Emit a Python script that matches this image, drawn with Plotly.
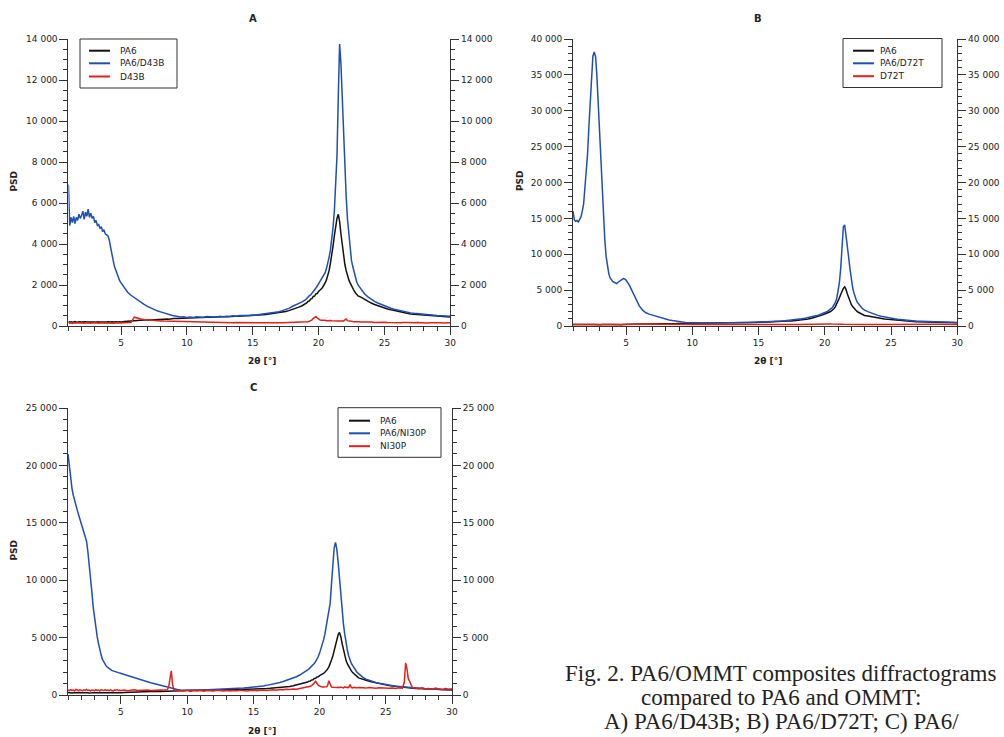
import plotly.graph_objects as go

W, H = 1004, 737

# ---------------- data (2theta grid in degrees, intensities in PSD) ----------------
X = [1.0, 1.1, 1.2, 1.3, 1.4, 1.5, 1.6, 1.7, 1.8, 1.9,
     2.0, 2.1, 2.2, 2.3, 2.4, 2.5, 2.6, 2.7, 2.8, 2.9,
     3.0, 3.1, 3.2, 3.3, 3.4, 3.5, 3.6, 3.7, 3.8, 3.9,
     4.0, 4.1, 4.2, 4.3, 4.4, 4.5, 4.6, 4.7, 4.8, 4.9, 5.0,
     5.25, 5.5, 5.75, 6.0, 6.25, 6.5, 6.75, 7.0, 7.25, 7.5, 7.75, 8.0, 8.25, 8.5,
     8.6, 8.7, 8.8, 8.9, 9.0,
     9.25, 9.5, 9.75, 10.0, 10.25, 10.5, 10.75, 11.0, 11.25, 11.5, 11.75, 12.0, 12.25, 12.5, 12.75, 13.0, 13.25, 13.5, 13.75, 14.0,
     14.25, 14.5, 14.75, 15.0, 15.25, 15.5, 15.75, 16.0, 16.25, 16.5, 16.75, 17.0, 17.25, 17.5, 17.75, 18.0, 18.25, 18.5, 18.75, 19.0,
     19.1, 19.2, 19.3, 19.4, 19.5, 19.6, 19.7, 19.8, 19.9, 20.0,
     20.1, 20.2, 20.3, 20.4, 20.5, 20.6, 20.7, 20.8, 20.9, 21.0,
     21.1, 21.2, 21.3, 21.4, 21.5, 21.6, 21.7, 21.8, 21.9, 22.0,
     22.1, 22.2, 22.3, 22.4, 22.5, 22.6, 22.7, 22.8, 22.9, 23.0,
     23.25, 23.5, 23.75, 24.0, 24.25, 24.5, 24.75, 25.0, 25.25, 25.5, 25.75, 26.0, 26.25,
     26.4, 26.5, 26.6, 26.7, 26.8, 26.9, 27.0,
     27.25, 27.5, 27.75, 28.0, 28.25, 28.5, 28.75, 29.0, 29.25, 29.5, 29.75, 30.0]

PA6 = [220, 190, 210, 180, 200, 215, 185, 205, 195, 210,
       190, 205, 185, 210, 195, 200, 180, 215, 190, 205,
       200, 185, 210, 195, 190, 205, 215, 185, 200, 195,
       205, 190, 200, 210, 185, 195, 205, 190, 200, 210, 195,
       215, 230, 250, 265, 270, 285, 280, 300, 295, 310, 320, 315, 330, 340,
       335, 350, 345, 355, 360,
       370, 380, 390, 400, 395, 410, 405, 420, 415, 430, 425, 440, 435, 445, 450, 455, 460, 465, 470, 475,
       480, 490, 495, 505, 515, 530, 545, 560, 580, 600, 625, 650, 680, 710, 750, 800, 860, 920, 990, 1080,
       1130, 1200, 1220, 1310, 1330, 1440, 1460, 1570, 1580, 1680,
       1730, 1800, 1880, 1980, 2100, 2250, 2450, 2700, 3050, 3400,
       3900, 4400, 4850, 5250, 5450, 5100, 4500, 3900, 3400, 3000,
       2700, 2450, 2250, 2100, 1950, 1830, 1720, 1620, 1540, 1470,
       1400, 1300, 1200, 1120, 1050, 990, 930, 880, 830, 790, 750, 710, 680,
       660, 645, 630, 620, 610, 600, 590,
       575, 560, 545, 530, 515, 505, 490, 480, 470, 460, 450, 440]

PA6_D43B = [6900, 4900, 5300, 5050, 5350, 5000, 5300, 5150, 5450, 5250,
            5400, 5600, 5200, 5550, 5350, 5700, 5300, 5500, 5250, 5350,
            5050, 5150, 4900, 4950, 4750, 4850, 4600, 4700, 4500, 4450,
            4400, 4200, 3800, 3500, 3200, 2900, 2700, 2500, 2350, 2200, 2100,
            1850, 1650, 1500, 1380, 1250, 1150, 1050, 960, 880, 810, 740, 690, 630, 590,
            560, 540, 530, 510, 500,
            470, 440, 450, 420, 440, 410, 450, 430, 420, 460, 440, 450, 430, 470, 450, 480, 460, 500, 480, 510,
            500, 520, 510, 540, 530, 560, 580, 600, 620, 650, 680, 700, 750, 800, 860, 950, 1020, 1100, 1180, 1270,
            1350, 1420, 1480, 1520, 1600, 1650, 1750, 1850, 1950, 2050,
            2150, 2250, 2350, 2450, 2600, 2800, 3050, 3350, 3700, 4200,
            4800, 5600, 6900, 8300, 11200, 13750, 12800, 11000, 9300, 7600,
            6300, 5200, 4400, 3800, 3200, 2900, 2600, 2350, 2150, 2000,
            1750, 1560, 1420, 1300, 1200, 1120, 1050, 980, 920, 870, 820, 780, 740,
            720, 700, 690, 680, 660, 650, 640,
            620, 600, 580, 560, 550, 530, 520, 510, 500, 490, 480, 470]

D43B = [170, 140, 160, 130, 155, 145, 165, 135, 150, 160,
        140, 155, 130, 160, 150, 145, 165, 140, 150, 135,
        155, 145, 160, 135, 150, 140, 160, 150, 145, 155,
        140, 150, 160, 145, 150, 135, 155, 150, 145, 160, 150,
        160, 150, 170, 430, 380, 340, 320, 300, 280, 270, 260, 250, 240, 235,
        230, 235, 225, 230, 220,
        215, 210, 220, 205, 200, 195, 205, 190, 185, 195, 180, 175, 185, 170, 175, 165, 170, 160, 170, 165,
        160, 170, 155, 165, 160, 150, 165, 155, 160, 150, 170, 155, 160, 165, 150, 170, 160, 175, 180, 200,
        200, 210, 230, 260, 300, 370, 420, 450, 400, 330,
        300, 280, 290, 270, 280, 260, 270, 250, 270, 260,
        250, 260, 240, 255, 245, 250, 240, 260, 250, 300,
        340, 260, 240, 230, 220, 215, 210, 220, 200, 205,
        190, 200, 180, 195, 175, 190, 170, 185, 175, 165, 180, 170, 160,
        170, 160, 175, 165, 170, 160, 165,
        160, 170, 155, 165, 150, 160, 170, 155, 160, 150, 165, 155]

PA6_D72T = [16000, 14800, 14600, 14700, 14500, 15000, 15200, 16000, 17000, 19300,
            21200, 24000, 27800, 31500, 35800, 37600, 38200, 37600, 35000, 31000,
            27800, 24000, 20000, 15200, 12000, 9700, 8300, 7300, 6700, 6400,
            6200, 6100, 6000, 5900, 6100, 6200, 6350, 6500, 6600, 6550, 6400,
            5700, 4700, 3600, 2800, 2200, 1850, 1650, 1500, 1350, 1220, 1080, 950, 850, 760,
            720, 690, 660, 630, 600,
            550, 500, 470, 450, 430, 440, 420, 430, 410, 430, 420, 440, 430, 450, 440, 460, 450, 470, 460, 480,
            490, 500, 510, 520, 540, 560, 580, 600, 630, 660, 690, 730, 770, 820, 870, 930, 1000, 1080, 1160, 1250,
            1300, 1350, 1400, 1450, 1500, 1560, 1620, 1700, 1780, 1850,
            1950, 2050, 2150, 2300, 2450, 2650, 2900, 3300, 3800, 4700,
            6000, 8000, 10500, 13800, 14100, 12800, 11200, 9600, 8000, 6500,
            5400, 4600, 3900, 3500, 3200, 2900, 2700, 2500, 2350, 2200,
            2000, 1800, 1620, 1480, 1360, 1250, 1150, 1070, 1000, 940, 880, 830, 790,
            760, 740, 720, 710, 690, 680, 670,
            650, 630, 610, 590, 580, 560, 550, 540, 530, 520, 510, 500]

D72T = [210, 190, 205, 195, 200, 215, 190, 205, 200, 195,
        200, 210, 190, 205, 195, 200, 210, 190, 205, 200,
        195, 205, 200, 190, 210, 200, 195, 205, 190, 200,
        205, 195, 200, 210, 190, 200, 205, 195, 210, 200, 195,
        200, 210, 230, 300, 320, 290, 280, 300, 270, 260, 250, 240, 230, 220,
        220, 215, 225, 210, 220,
        215, 205, 220, 210, 200, 215, 205, 210, 200, 215, 205, 210, 200, 205, 215, 200, 210, 205, 200, 210,
        205, 200, 210, 195, 205, 200, 210, 200, 205, 195, 210, 200, 205, 215, 200, 210, 220, 230, 240, 250,
        260, 280, 300, 320, 330, 340, 350, 330, 320, 310,
        300, 290, 280, 290, 270, 280, 260, 270, 250, 260,
        250, 240, 250, 240, 245, 235, 240, 230, 240, 235,
        230, 235, 225, 230, 220, 230, 225, 220, 215, 225,
        220, 215, 210, 220, 210, 215, 205, 210, 220, 240, 260, 270, 280,
        290, 300, 290, 280, 300, 290, 280,
        270, 260, 250, 240, 230, 240, 230, 220, 230, 220, 210, 220]

PA6_NI30P = [21000, 19800, 18900, 18000, 17400, 16900, 16500, 16100, 15700, 15300,
             14900, 14600, 14300, 13900, 13400, 12500, 11500, 10300, 9000, 7700,
             6700, 5900, 5100, 4500, 3900, 3500, 3100, 2850, 2650, 2500,
             2400, 2300, 2250, 2150, 2100, 2050, 2000, 1980, 1950, 1920, 1880,
             1800, 1700, 1620, 1520, 1430, 1330, 1240, 1150, 1060, 980, 900, 830, 760, 700,
             660, 620, 580, 540, 500,
             470, 440, 420, 410, 400, 410, 420, 430, 420, 440, 450, 460, 470, 480, 500, 510, 530, 550, 560, 580,
             600, 630, 650, 680, 710, 750, 790, 840, 890, 950, 1020, 1090, 1170, 1260, 1360, 1470, 1590, 1740, 1900, 2080,
             2180, 2280, 2380, 2500, 2620, 2750, 2900, 3100, 3350, 3650,
             4000, 4400, 4800, 5300, 5900, 6600, 7300, 8000, 9700, 11400,
             12800, 13300, 12700, 11600, 10100, 8600, 7300, 6200, 5300, 4500,
             3900, 3400, 3000, 2750, 2550, 2350, 2180, 2030, 1900, 1780,
             1560, 1380, 1270, 1170, 1090, 1020, 960, 900, 850, 800, 760, 730, 700,
             680, 660, 650, 640, 630, 620, 610,
             590, 570, 550, 540, 520, 510, 500, 490, 480, 470, 460, 450]

NI30P = [450, 380, 470, 400, 430, 360, 480, 410, 390, 460,
         420, 370, 450, 400, 480, 390, 430, 360, 440, 410,
         380, 460, 400, 430, 370, 450, 410, 390, 470, 400,
         430, 380, 450, 400, 360, 440, 410, 470, 390, 420, 400,
         430, 380, 420, 460, 390, 410, 370, 440, 400, 420, 380, 430, 410, 450,
         700, 1600, 2100, 900, 450,
         400, 380, 350, 420, 300, 380, 350, 400, 320, 390, 360, 340, 410, 370, 350, 390, 360, 400, 370, 410,
         380, 350, 400, 420, 370, 410, 440, 400, 430, 460, 420, 480, 450, 500, 470, 520, 500, 560, 600, 650,
         680, 720, 760, 820, 900, 1050, 1200, 1000, 850, 780,
         720, 690, 700, 680, 720, 800, 1250, 950, 700, 680,
         660, 700, 650, 680, 640, 700, 660, 620, 700, 650,
         680, 640, 900, 650, 620, 680, 640, 660, 620, 650,
         640, 600, 660, 620, 580, 640, 600, 620, 580, 600, 560, 620, 600,
         1100, 2800, 2300, 1400, 1200, 900, 650,
         600, 550, 620, 520, 560, 480, 600, 520, 450, 560, 500, 540]

for _s in (PA6, PA6_D43B, D43B, PA6_D72T, D72T, PA6_NI30P, NI30P):
    assert len(_s) == len(X), len(_s)

X_TICKS = [5, 10, 15, 20, 25, 30]
AXIS_TITLE_X = "2θ [°]"
AXIS_TITLE_Y = "PSD"
CAPTION = ["Fig. 2. PA6/OMMT composites diffractograms",
           "compared to PA6 and OMMT:",
           "A) PA6/D43B; B) PA6/D72T; C) PA6/"]

# ---------------- styling ----------------
BLACK, BLUE, RED = "#111111", "#1f4fb2", "#e3201b"
AXC = "#333333"
TXT = "#222222"
FONT = "DejaVu Sans"


def px(v):
    return v / W


def py(v):
    return 1 - v / H


panels = [
    dict(label="A", n="", x0=68.4, x1=450.2, top=39, bot=326, ymax=14000, dtick=2000, minor=500,
         series=[("PA6", PA6, BLACK), ("PA6/D43B", PA6_D43B, BLUE), ("D43B", D43B, RED)],
         title=(253, 19), xt=(262, 361), yt=(13.5, 181),
         leg=(80, 177, 39, 88), legline=(89, 110), legtext=118, legrows=(50.7, 63.3, 76.5)),
    dict(label="B", n="2", x0=573.0, x1=957.3, top=39, bot=326, ymax=40000, dtick=5000, minor=1000,
         series=[("PA6", PA6, BLACK), ("PA6/D72T", PA6_D72T, BLUE), ("D72T", D72T, RED)],
         title=(758, 18.5), xt=(768, 361), yt=(520, 181),
         leg=(843, 942, 38.5, 87.5), legline=(853, 874), legtext=878, legrows=(50.7, 63.3, 76.2)),
    dict(label="C", n="3", x0=68.0, x1=452.0, top=408, bot=695, ymax=25000, dtick=5000, minor=1000,
         series=[("PA6", PA6, BLACK), ("PA6/NI30P", PA6_NI30P, BLUE), ("NI30P", NI30P, RED)],
         title=(253, 387), xt=(262, 731), yt=(13.5, 550),
         leg=(338, 441, 407.7, 457.3), legline=(349, 370), legtext=378, legrows=(420.7, 433.3, 446.2)),
]

fig = go.Figure()
layout = dict(width=W, height=H, margin=dict(l=0, r=0, t=0, b=0), template="none",
              paper_bgcolor="white", plot_bgcolor="white", separators=". ",
              showlegend=False, font=dict(family=FONT, size=9, color=TXT))
shapes, annotations = [], []

for i, p in enumerate(panels):
    n = p["n"]
    xa, ya = "x" + n, "y" + n
    yr = "y" + str(i + 4)
    common_y = dict(range=[0, p["ymax"]], autorange=False, dtick=p["dtick"], tick0=0,
                    tickformat=",d", ticks="outside", ticklen=8, tickwidth=1, tickcolor=AXC,
                    showline=True, linecolor=AXC, linewidth=1, showgrid=False, zeroline=False,
                    automargin=False, tickfont=dict(family=FONT, size=9, color=TXT),
                    minor=dict(ticks="outside", ticklen=4, tickcolor=AXC, dtick=p["minor"],
                               tick0=0, showgrid=False))
    layout["xaxis" + n] = dict(domain=[px(p["x0"]), px(p["x1"])], anchor=ya, range=[1, 30],
                               autorange=False, tickmode="array", tickvals=X_TICKS,
                               ticks="outside", ticklen=8, tickwidth=1, tickcolor=AXC,
                               showline=True, linecolor=AXC, linewidth=1, showgrid=False,
                               zeroline=False, automargin=False,
                               tickfont=dict(family=FONT, size=9, color=TXT),
                               minor=dict(ticks="outside", ticklen=4, tickcolor=AXC,
                                          dtick=1, tick0=0, showgrid=False))
    layout["yaxis" + n] = dict(domain=[py(p["bot"]), py(p["top"])], anchor=xa, side="left",
                               **common_y)
    layout["yaxis" + str(i + 4)] = dict(overlaying=ya, anchor=xa, side="right", **common_y)

    for name, ys, col in p["series"]:
        fig.add_trace(go.Scatter(x=X, y=ys, name=name, mode="lines", xaxis=xa, yaxis=ya,
                                 line=dict(color=col, width=1.5), showlegend=False))
    # trace on the mirrored right axis (same PA6 data, invisible line) so the axis is drawn
    fig.add_trace(go.Scatter(x=X, y=PA6, mode="lines", xaxis=xa, yaxis=yr, hoverinfo="skip",
                             line=dict(color="rgba(0,0,0,0)", width=0), showlegend=False))

    # panel title, axis titles
    tx, ty = p["title"]
    annotations.append(dict(text="<b>%s</b>" % p["label"], x=px(tx), y=py(ty), xref="paper",
                            yref="paper", showarrow=False, xanchor="center", yanchor="middle",
                            font=dict(family=FONT, size=10, color=TXT)))
    tx, ty = p["xt"]
    annotations.append(dict(text="<b>%s</b>" % AXIS_TITLE_X, x=px(tx), y=py(ty), xref="paper",
                            yref="paper", showarrow=False, xanchor="center", yanchor="middle",
                            font=dict(family=FONT, size=9, color=TXT)))
    tx, ty = p["yt"]
    annotations.append(dict(text="<b>%s</b>" % AXIS_TITLE_Y, x=px(tx), y=py(ty), xref="paper",
                            yref="paper", showarrow=False, xanchor="center", yanchor="middle",
                            textangle=-90, font=dict(family=FONT, size=9, color=TXT)))

    # legend box
    lx0, lx1, ly0, ly1 = p["leg"]
    shapes.append(dict(type="rect", xref="paper", yref="paper", x0=px(lx0), x1=px(lx1),
                       y0=py(ly1), y1=py(ly0), line=dict(color=AXC, width=1),
                       fillcolor="white", layer="above"))
    for (name, ys, col), ry in zip(p["series"], p["legrows"]):
        shapes.append(dict(type="line", xref="paper", yref="paper", x0=px(p["legline"][0]),
                           x1=px(p["legline"][1]), y0=py(ry), y1=py(ry),
                           line=dict(color=col, width=2), layer="above"))
        annotations.append(dict(text=name, x=px(p["legtext"]), y=py(ry), xref="paper",
                                yref="paper", showarrow=False, xanchor="left", yanchor="middle",
                                font=dict(family=FONT, size=9, color=TXT)))

# caption
for line, cy in zip(CAPTION, (673.5, 697.5, 721.5)):
    annotations.append(dict(text=line, x=px(781), y=py(cy), xref="paper", yref="paper",
                            showarrow=False, xanchor="center", yanchor="middle",
                            font=dict(family="Liberation Serif", size=23, color=TXT)))

layout["shapes"] = shapes
layout["annotations"] = annotations
fig.update_layout(**layout)
fig.write_html("out.html", config={"displayModeBar": False},
               post_script="document.body.style.margin='0';document.body.style.overflow='hidden';")
